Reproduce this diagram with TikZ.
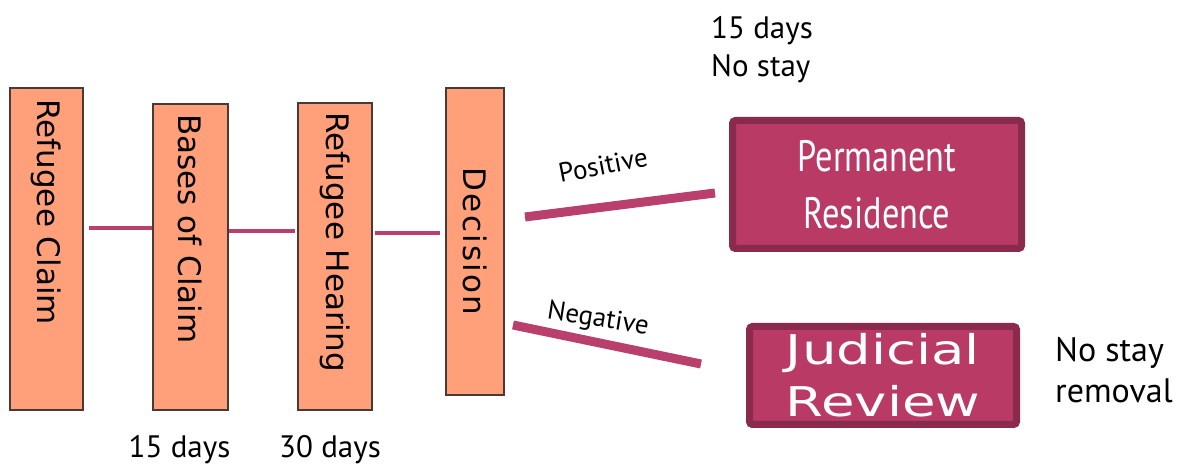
\documentclass[tikz,border=0pt]{standalone}
\usepackage{fontspec}
\setmainfont{PT Sans}
\newfontfamily\boxfont{DejaVu Sans}
\newfontfamily\narrowfont[FakeStretch=0.78]{PT Sans}
\newfontfamily\widefont[FakeStretch=1.33]{DejaVu Sans}
\usepackage{tikz}
\usepackage{xcolor}
\definecolor{salmon}{HTML}{FFA07A}
\definecolor{stageborder}{HTML}{4A3A36}
\definecolor{plum}{HTML}{B83A65}
\definecolor{plumdark}{HTML}{8A2A4C}
\definecolor{linkcol}{HTML}{B93F6C}
\tikzstyle{stage} = [rectangle, draw=stageborder, line width=1.5pt, fill=salmon]
\tikzstyle{stagetext} = [rotate=-90, inner sep=0pt, font=\boxfont\fontsize{31}{36}\selectfont]
\tikzstyle{outcome} = [rectangle, rounded corners=3pt, draw=plumdark, line width=7pt, fill=plum,
text=white, align=center]
\tikzstyle{link} = [draw=linkcol, line width=4pt]
\tikzstyle{branch} = [draw=linkcol, line width=9pt]
\tikzstyle{note} = [inner sep=0pt, align=left, font=\fontsize{31}{38}\selectfont]
\tikzstyle{branchlabel} = [inner sep=0pt, font=\fontsize{27}{30}\selectfont]

\begin{document}
\begin{tikzpicture}[x=1pt, y=1pt]
        \useasboundingbox (0,0) rectangle (1177,465);

        % Stages of the claim
        \node[stage, minimum width=73pt, minimum height=322pt] at (46.5,216) (claim) {};
        \node[stagetext, anchor=west] at ([yshift=-12pt]claim.north) (claimtext) {Refugee Claim};

        \node[stage, minimum width=75pt, minimum height=306pt] at (190.5,208) (bases) {};
        \node[stagetext, anchor=west] at ([yshift=-11pt]bases.north) (basestext) {Bases of Claim};

        \node[stage, minimum width=74pt, minimum height=307pt] at (335,208.5) (hearing) {};
        \node[stagetext, anchor=west] at ([yshift=-10pt]hearing.north) (hearingtext) {Refugee Hearing};

        \node[stage, minimum width=58pt, minimum height=307pt] at (475,223.5) (decision) {};
        \node[stagetext] at (decision.center) (decisiontext) {\addfontfeature{LetterSpace=7}Decision};

        \draw[link] ([xshift=5pt]claim.east |- 0,237) -- (bases.west |- 0,237);
        \draw[link] (bases.east |- 0,234) -- ([xshift=-2pt]hearing.west |- 0,234);
        \draw[link] ([xshift=2pt]hearing.east |- 0,232) -- ([xshift=-5pt]decision.west |- 0,232);

        % Outcomes
        \node[outcome, minimum width=289pt, minimum height=128pt,
            font=\narrowfont\fontsize{44}{57}\selectfont] at (877,280.5) (residence)
            {Permanent\\Residence};
        \node[outcome, minimum width=267pt, minimum height=98pt, inner ysep=0pt,
            font=\widefont\fontsize{41}{52}\selectfont] at (883,89.5) (review)
            {Judicial\\Review};

        \coordinate (posstart) at (525,248);
        \coordinate (posend) at (715,272);
        \draw[branch] (posstart) -- (posend);
        \node[branchlabel, rotate=11] at (603,300) (poslabel) {Positive};

        \coordinate (negstart) at (513,140);
        \coordinate (negend) at (701,101);
        \draw[branch] (negstart) -- (negend);
        \node[branchlabel, rotate=-9] at (598,145) (neglabel) {Negative};

        % Time limits
        \node[note, anchor=west] at (711,415) (residencenote) {15 days\\No stay};
        \node[note, anchor=base] at (179.5,7) (basesdays) {15 days};
        \node[note, anchor=base] at (330,7) (hearingdays) {30 days};
        \node[note, anchor=west, font=\fontsize{34}{41}\selectfont] at (1055,95) (reviewnote)
            {No stay\\removal};
    \end{tikzpicture}
\end{document}
